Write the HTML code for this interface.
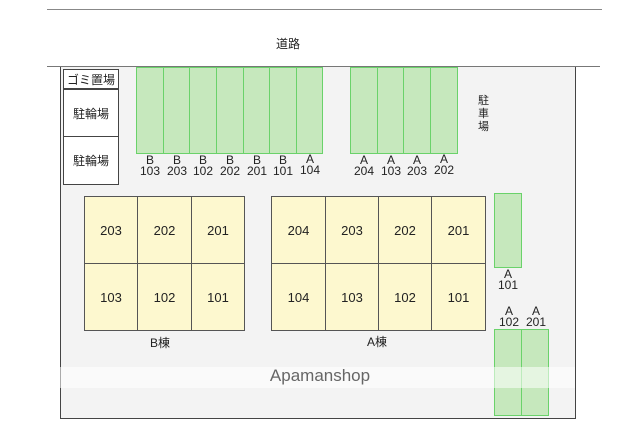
<!DOCTYPE html><html><head><style>
body{margin:0;width:640px;height:427px;background:#fff;position:relative;overflow:hidden;font-family:"Liberation Sans","Noto Sans CJK JP",sans-serif;color:#222}
div{position:absolute;box-sizing:border-box}
.p{background:#c6e8bd;border:1px solid #6ad26a}
.b{background:#fdf8cf;border:1px solid #555;font-size:13px;display:flex;align-items:center;justify-content:center}
.l{font-size:12px;line-height:11px;text-align:center;width:28px}
.w{background:#fff;border:1px solid #444;font-size:12px;display:flex;align-items:center;justify-content:center}
</style></head><body>
<div style="left:47px;top:9px;width:555px;height:1px;background:#888"></div>
<div style="left:276px;top:35px;font-size:12px">道路</div>
<div style="left:60px;top:66px;width:516px;height:353px;background:#f3f3f3;border:1px solid #444;border-top:none"></div>
<div style="left:47px;top:66px;width:553px;height:1px;background:#777"></div>
<div class="w" style="left:63px;top:69px;width:56px;height:20px">ゴミ置場</div>
<div class="w" style="left:63px;top:89px;width:56px;height:48px">駐輪場</div>
<div class="w" style="left:63px;top:136px;width:56px;height:49px">駐輪場</div>
<div class="p" style="left:136px;top:67px;width:28px;height:87px"></div>
<div class="p" style="left:163px;top:67px;width:28px;height:87px"></div>
<div class="p" style="left:189px;top:67px;width:28px;height:87px"></div>
<div class="p" style="left:216px;top:67px;width:28px;height:87px"></div>
<div class="p" style="left:243px;top:67px;width:28px;height:87px"></div>
<div class="p" style="left:269px;top:67px;width:28px;height:87px"></div>
<div class="p" style="left:296px;top:67px;width:27px;height:87px"></div>
<div class="l" style="left:136px;top:155px">B<br>103</div>
<div class="l" style="left:163px;top:155px">B<br>203</div>
<div class="l" style="left:189px;top:155px">B<br>102</div>
<div class="l" style="left:216px;top:155px">B<br>202</div>
<div class="l" style="left:243px;top:155px">B<br>201</div>
<div class="l" style="left:269px;top:155px">B<br>101</div>
<div class="l" style="left:296px;top:154px">A<br>104</div>
<div class="p" style="left:350px;top:67px;width:28px;height:87px"></div>
<div class="p" style="left:377px;top:67px;width:28px;height:87px"></div>
<div class="p" style="left:403px;top:67px;width:28px;height:87px"></div>
<div class="p" style="left:430px;top:67px;width:28px;height:87px"></div>
<div class="l" style="left:350px;top:155px">A<br>204</div>
<div class="l" style="left:377px;top:155px">A<br>103</div>
<div class="l" style="left:403px;top:155px">A<br>203</div>
<div class="l" style="left:430px;top:154px">A<br>202</div>
<div style="left:478px;top:95px;font-size:11px;line-height:13px;width:12px">駐車場</div>
<div class="b" style="left:84px;top:196px;width:54px;height:68px">203</div>
<div class="b" style="left:137px;top:196px;width:55px;height:68px">202</div>
<div class="b" style="left:191px;top:196px;width:54px;height:68px">201</div>
<div class="b" style="left:84px;top:263px;width:54px;height:68px">103</div>
<div class="b" style="left:137px;top:263px;width:55px;height:68px">102</div>
<div class="b" style="left:191px;top:263px;width:54px;height:68px">101</div>
<div style="left:150px;top:334px;font-size:12px">B棟</div>
<div class="b" style="left:271px;top:196px;width:55px;height:68px">204</div>
<div class="b" style="left:325px;top:196px;width:54px;height:68px">203</div>
<div class="b" style="left:378px;top:196px;width:54px;height:68px">202</div>
<div class="b" style="left:431px;top:196px;width:55px;height:68px">201</div>
<div class="b" style="left:271px;top:263px;width:55px;height:68px">104</div>
<div class="b" style="left:325px;top:263px;width:54px;height:68px">103</div>
<div class="b" style="left:378px;top:263px;width:54px;height:68px">102</div>
<div class="b" style="left:431px;top:263px;width:55px;height:68px">101</div>
<div style="left:367px;top:333px;font-size:12px">A棟</div>
<div class="p" style="left:494px;top:193px;width:28px;height:75px"></div>
<div class="l" style="left:494px;top:269px">A<br>101</div>
<div class="l" style="left:495px;top:306px">A<br>102</div>
<div class="l" style="left:522px;top:306px">A<br>201</div>
<div class="p" style="left:494px;top:329px;width:28px;height:87px"></div>
<div class="p" style="left:521px;top:329px;width:28px;height:87px"></div>
<div style="left:60px;top:367px;width:515px;height:21px;background:rgba(255,255,255,0.55)"></div>
<div style="left:0;top:366px;width:640px;text-align:center;font-size:17px;color:#666">Apamanshop</div>
</body></html>
